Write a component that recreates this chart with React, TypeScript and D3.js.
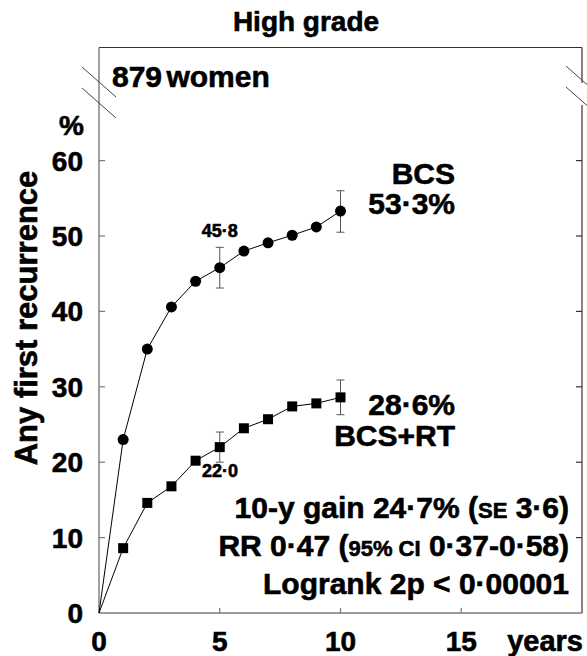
import React from 'react'
import * as d3 from 'd3'

const years = [0, 1, 2, 3, 4, 5, 6, 7, 8, 9, 10]
const bcs = [0, 23.0, 35.0, 40.6, 44.0, 45.8, 48.0, 49.1, 50.1, 51.2, 53.3]
const bcsRt = [0, 8.6, 14.6, 16.8, 20.2, 22.0, 24.5, 25.7, 27.4, 27.8, 28.6]

const errYears = [5, 10]
const bcsLow = [43.1, 50.5]
const bcsHigh = [48.5, 56.0]
const rtLow = [20.0, 26.3]
const rtHigh = [24.0, 30.9]

const yTicks = [0, 10, 20, 30, 40, 50, 60]
const xTicks = [0, 5, 10, 15]

const W = 587
const H = 656
const font = '"Liberation Sans", Arial, Helvetica, sans-serif'

const App = () => {
  const x = d3.scaleLinear().domain([0, 20]).range([99, 582])
  const y = d3.scaleLinear().domain([0, 75]).range([613, 47.5])

  const line = d3
    .line<number>()
    .x((_, i) => x(years[i]))
    .y((d) => y(d))

  const axisGrey = '#7a7a7a'
  const frame = '#333'
  const top = y(75)
  const right = x(20)
  const left = x(0)
  const bottom = y(0)

  return (
    <svg
      width={W}
      height={H}
      style={{ position: 'absolute', left: 0, top: 0, background: '#fff' }}
      fontFamily={font}
      fontWeight="bold"
    >
      {/* frame: top and right (broken), left + bottom axes */}
      <line x1={left} x2={right} y1={top} y2={top} stroke={frame} strokeWidth={1.2} />
      <line x1={right} x2={right} y1={top} y2={83} stroke={frame} strokeWidth={1.2} />
      <line x1={right} x2={right} y1={105} y2={bottom} stroke={frame} strokeWidth={1.2} />
      <line x1={left} x2={left} y1={top} y2={bottom} stroke={axisGrey} strokeWidth={1.4} />
      <line x1={left} x2={right} y1={bottom} y2={bottom} stroke={axisGrey} strokeWidth={1.4} />

      {/* break marks */}
      {[0, 21].map((o) => (
        <g key={o} stroke="#444" strokeWidth={1}>
          <line x1={82} y1={67 + o} x2={116} y2={97 + o} />
          <line x1={566} y1={66 + o} x2={600} y2={96 + o} />
        </g>
      ))}

      {/* ticks */}
      {yTicks.filter((t) => t > 0).map((t) => (
        <g key={t}>
          <line x1={left} x2={left + 6} y1={y(t)} y2={y(t)} stroke={axisGrey} strokeWidth={1.2} />
          <line x1={right - 6} x2={right} y1={y(t)} y2={y(t)} stroke={frame} strokeWidth={1.2} />
        </g>
      ))}
      {xTicks.filter((t) => t > 0).map((t) => (
        <line key={t} x1={x(t)} x2={x(t)} y1={bottom} y2={bottom - 5} stroke={axisGrey} strokeWidth={1.2} />
      ))}

      {/* error bars */}
      {errYears.map((yr, i) => (
        <g key={yr} stroke="#555" strokeWidth={1}>
          <line x1={x(yr)} x2={x(yr)} y1={y(bcsLow[i])} y2={y(bcsHigh[i])} />
          <line x1={x(yr) - 4} x2={x(yr) + 4} y1={y(bcsLow[i])} y2={y(bcsLow[i])} />
          <line x1={x(yr) - 4} x2={x(yr) + 4} y1={y(bcsHigh[i])} y2={y(bcsHigh[i])} />
          <line x1={x(yr)} x2={x(yr)} y1={y(rtLow[i])} y2={y(rtHigh[i])} />
          <line x1={x(yr) - 4} x2={x(yr) + 4} y1={y(rtLow[i])} y2={y(rtLow[i])} />
          <line x1={x(yr) - 4} x2={x(yr) + 4} y1={y(rtHigh[i])} y2={y(rtHigh[i])} />
        </g>
      ))}

      {/* curves */}
      <path d={line(bcs) || ''} fill="none" stroke="#000" strokeWidth={1} />
      <path d={line(bcsRt) || ''} fill="none" stroke="#000" strokeWidth={1} />

      {bcs.map((v, i) =>
        years[i] > 0 ? <circle key={i} cx={x(years[i])} cy={y(v)} r={5.5} fill="#000" /> : null
      )}
      {bcsRt.map((v, i) =>
        years[i] > 0 ? (
          <rect key={i} x={x(years[i]) - 5} y={y(v) - 5} width={10} height={10} fill="#000" />
        ) : null
      )}

      {/* all text, slightly stroked to look heavier */}
      <g stroke="#000" strokeWidth={0.6}>
        <text x={306} y={31} fontSize={28} textAnchor="middle">
          High grade
        </text>

        {yTicks.map((t) => (
          <text key={t} x={83} y={y(t)} dy="0.36em" fontSize={28} textAnchor="end">
            {t}
          </text>
        ))}
        <text x={84} y={135} fontSize={28} textAnchor="end">
          %
        </text>

        {xTicks.map((t) => (
          <text key={t} x={x(t)} y={651} fontSize={28} textAnchor="middle">
            {t}
          </text>
        ))}
        <text x={583} y={651} fontSize={29} textAnchor="end">
          years
        </text>

        <text transform={`translate(37, 318) rotate(-90)`} fontSize={31} textAnchor="middle">
          Any first recurrence
        </text>

        <text x={112} y={87} fontSize={30} wordSpacing={-4}>
          879 women
        </text>

        <text x={x(5)} y={237} fontSize={18} textAnchor="middle">
          45·8
        </text>
        <text x={202} y={477} fontSize={18}>
          22·0
        </text>

        <text x={455} y={184} fontSize={30} textAnchor="end">
          BCS
        </text>
        <text x={455} y={214} fontSize={30} textAnchor="end">
          53·3%
        </text>
        <text x={455} y={415} fontSize={30} textAnchor="end">
          28·6%
        </text>
        <text x={455} y={446} fontSize={30} textAnchor="end">
          BCS+RT
        </text>

        <text x={569} y={518} fontSize={30} textAnchor="end">
          10-y gain 24·7% (<tspan fontSize={22}>SE</tspan> 3·6)
        </text>
        <text x={569} y={556} fontSize={30} textAnchor="end">
          RR 0·47 (<tspan fontSize={22}>95% CI</tspan> 0·37-0·58)
        </text>
        <text x={569} y={594} fontSize={30} textAnchor="end">
          Logrank 2p &lt; 0·00001
        </text>
      </g>
    </svg>
  )
}

export default App
